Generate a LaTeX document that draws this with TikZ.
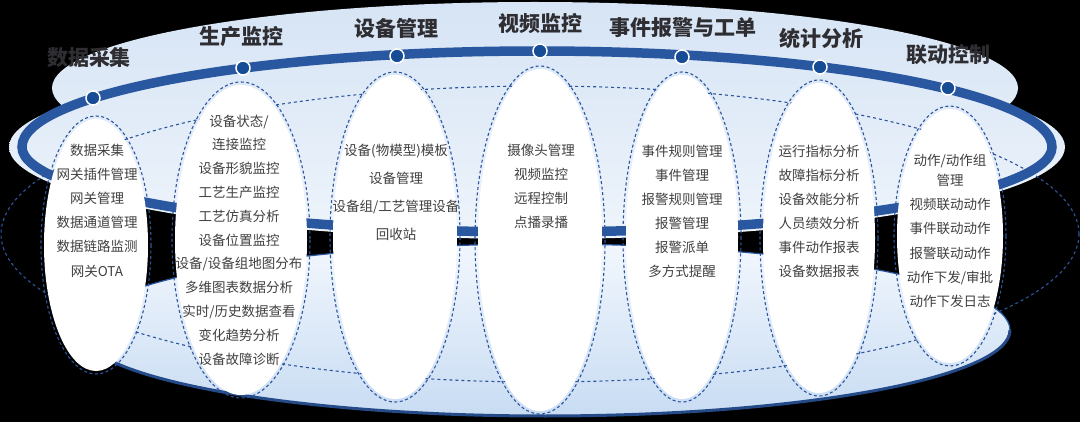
\documentclass[tikz,border=0pt]{standalone}
\usepackage{fontspec}
\setmainfont{Noto Sans CJK SC}
\usetikzlibrary{shapes.geometric}
\definecolor{ringblue}{RGB}{42,88,160}
\definecolor{dotblue}{RGB}{22,76,150}
\definecolor{dashblue}{RGB}{45,85,158}
\definecolor{paleA}{RGB}{214,228,245}
\definecolor{paleB}{RGB}{238,244,251}
\definecolor{bowlA}{RGB}{242,247,253}
\definecolor{bowlB}{RGB}{200,220,243}
\definecolor{titlegray}{RGB}{46,46,50}
\definecolor{textgray}{RGB}{64,64,64}
\begin{document}
\begin{tikzpicture}[x=1pt,y=-1pt,
  oval/.style={ellipse, inner sep=0pt, outer sep=0pt, draw=none, fill=white},
  ovaldash/.style={draw=dashblue, line width=1.1pt, dash pattern=on 3pt off 2.5pt},
  wire/.style={draw=dashblue, line width=1.1pt, dash pattern=on 3pt off 3pt},
  titletext/.style={font=\fontsize{21}{24}\selectfont\bfseries, text=titlegray, inner sep=0pt},
  itemtext/.style={font=\fontsize{13.5}{#1}\selectfont, text=textgray, align=center, inner sep=0pt},
  dotmark/.style={circle, fill=dotblue, draw=white, line width=1.5pt, minimum size=14pt, inner sep=0pt},
]
\useasboundingbox (0,0) rectangle (1080,422);
\fill[black] (0,0) rectangle (1080,422);
% top disc and ring plane
\shade[top color=paleA, bottom color=paleB] (535,88) ellipse [x radius=483, y radius=86] (537,147) ellipse [x radius=528, y radius=92];
% bowl
\shade[top color=bowlA, bottom color=bowlB] (545,330) ellipse [x radius=465, y radius=86];
\draw[ringblue, line width=1.2pt] (545,330) ellipse [x radius=465, y radius=86];
\draw[ringblue!85!black, line width=3pt] (80,330) arc[start angle=180, end angle=0, x radius=465, y radius=86];
% ring
\draw[ringblue, line width=9.5pt] (22,147) arc[start angle=180, end angle=360, x radius=515, y radius=96] arc[start angle=0, end angle=180, x radius=515, y radius=85] -- cycle;
% wireframe
\draw[wire] (540,234) ellipse [x radius=539, y radius=148];
% ovals
\node[oval, minimum width=104pt, minimum height=252pt] (o1) at (96,245) {};
\node[oval, minimum width=132pt, minimum height=310pt] (o2) at (241,240) {};
\node[oval, minimum width=124pt, minimum height=324pt] (o3) at (395,237) {};
\node[oval, minimum width=124pt, minimum height=342pt] (o4) at (540,240) {};
\node[oval, minimum width=112pt, minimum height=324pt] (o5) at (682,237) {};
\node[oval, minimum width=112pt, minimum height=310pt] (o6) at (819,238) {};
\node[oval, minimum width=106pt, minimum height=254pt] (o7) at (950,236) {};
\draw[ovaldash] (o1.center) ellipse [x radius=55, y radius=129];
\draw[ovaldash] (o2.center) ellipse [x radius=69, y radius=158];
\draw[ovaldash] (o3.center) ellipse [x radius=65, y radius=165];
\draw[ovaldash] (o4.center) ellipse [x radius=65, y radius=174];
\draw[ovaldash] (o5.center) ellipse [x radius=59, y radius=165];
\draw[ovaldash] (o6.center) ellipse [x radius=59, y radius=158];
\draw[ovaldash] (o7.center) ellipse [x radius=56, y radius=130];
% dots
\node[dotmark] (d1) at (93,98) {};
\node[dotmark] (d2) at (243,68) {};
\node[dotmark] (d3) at (397,56) {};
\node[dotmark] (d4) at (540,51) {};
\node[dotmark] (d5) at (682,57) {};
\node[dotmark] (d6) at (820,67) {};
\node[dotmark] (d7) at (948,88) {};
% titles
\node[titletext] (h1) at (89,58) {数据采集};
\node[titletext] (h2) at (241,37) {生产监控};
\node[titletext] (h3) at (396,28) {设备管理};
\node[titletext] (h4) at (540,24) {视频监控};
\node[titletext] (h5) at (683,28) {事件报警与工单};
\node[titletext] (h6) at (821,39) {统计分析};
\node[titletext] (h7) at (948,55) {联动控制};
% items
\node[itemtext=24.2] (t1) at (97,210.5) {数据采集\\网关插件管理\\网关管理\\数据通道管理\\数据链路监测\\网关OTA};
\node[itemtext=23.8] (t2) at (239,240) {设备状态/\\连接监控\\设备形貌监控\\工艺生产监控\\工艺仿真分析\\设备位置监控\\设备/设备组地图分布\\多维图表数据分析\\实时/历史数据查看\\变化趋势分析\\设备故障诊断};
\node[itemtext=28] (t3) at (396,192) {设备(物模型)模板\\设备管理\\设备组/工艺管理设备\\回收站};
\node[itemtext=24] (t4) at (541,186) {摄像头管理\\视频监控\\远程控制\\点播录播};
\node[itemtext=24] (t5) at (682,211) {事件规则管理\\事件管理\\报警规则管理\\报警管理\\报警派单\\多方式提醒};
\node[itemtext=24] (t6) at (819,211) {运行指标分析\\故障指标分析\\设备效能分析\\人员绩效分析\\事件动作报表\\设备数据报表};
\node[itemtext=24.3] (t7) at (950,231) {动作/动作组\\[-4.3pt]管理\\视频联动动作\\事件联动动作\\报警联动动作\\动作下发/审批\\动作下发日志};
\end{tikzpicture}
\end{document}
